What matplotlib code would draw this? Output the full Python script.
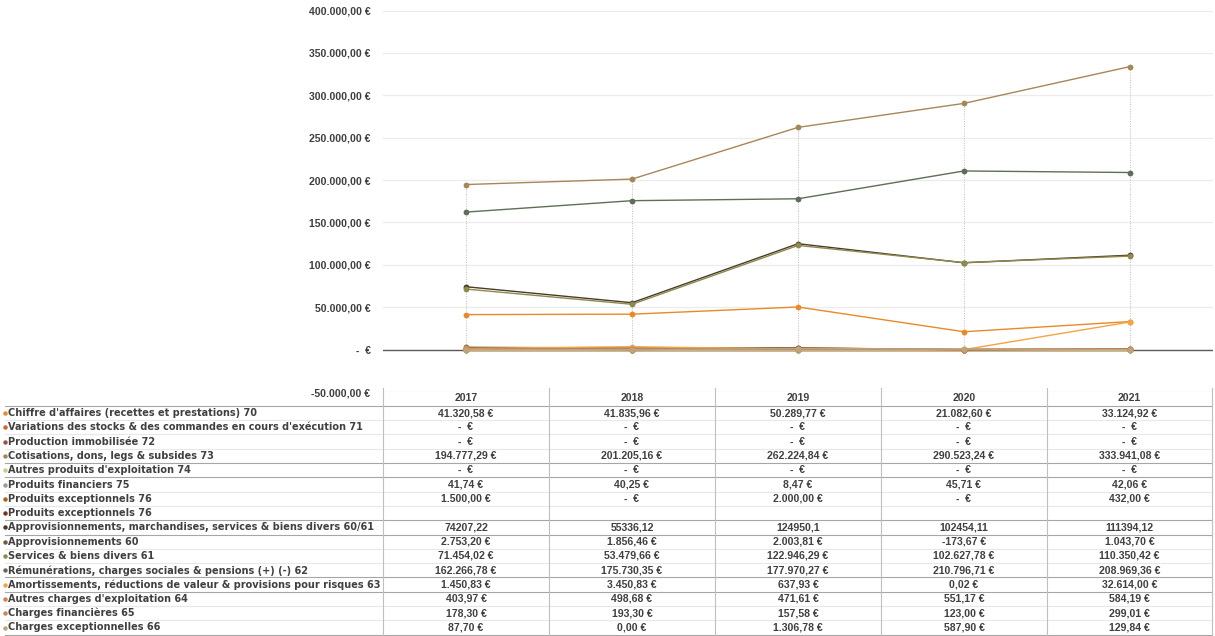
import matplotlib
matplotlib.use("Agg")
import matplotlib.pyplot as plt
import numpy as np

# ---------------- data ----------------
years = ["2017", "2018", "2019", "2020", "2021"]

labels = [
    "Chiffre d'affaires (recettes et prestations) 70",
    "Variations des stocks & des commandes en cours d'exécution 71",
    "Production immobilisée 72",
    "Cotisations, dons, legs & subsides 73",
    "Autres produits d'exploitation 74",
    "Produits financiers 75",
    "Produits exceptionnels 76",
    "Produits exceptionnels 76",
    "Approvisionnements, marchandises, services & biens divers 60/61",
    "Approvisionnements 60",
    "Services & biens divers 61",
    "Rémunérations, charges sociales & pensions (+) (-) 62",
    "Amortissements, réductions de valeur & provisions pour risques 63",
    "Autres charges d'exploitation 64",
    "Charges financières 65",
    "Charges exceptionnelles 66",
]

chiffre_affaires = [41320.58, 41835.96, 50289.77, 21082.60, 33124.92]
variations_stocks = [0, 0, 0, 0, 0]
production_immo = [0, 0, 0, 0, 0]
cotisations = [194777.29, 201205.16, 262224.84, 290523.24, 333941.08]
autres_produits = [0, 0, 0, 0, 0]
produits_fin = [41.74, 40.25, 8.47, 45.71, 42.06]
produits_exc = [1500.00, 0, 2000.00, 0, 432.00]
produits_exc_2 = [None, None, None, None, None]
approvisionnements_6061 = [74207.22, 55336.12, 124950.1, 102454.11, 111394.12]
approvisionnements_60 = [2753.20, 1856.46, 2003.81, -173.67, 1043.70]
services_biens = [71454.02, 53479.66, 122946.29, 102627.78, 110350.42]
remunerations = [162266.78, 175730.35, 177970.27, 210796.71, 208969.36]
amortissements = [1450.83, 3450.83, 637.93, 0.02, 32614.00]
autres_charges = [403.97, 498.68, 471.61, 551.17, 584.19]
charges_fin = [178.30, 193.30, 157.58, 123.00, 299.01]
charges_exc = [87.70, 0.00, 1306.78, 587.90, 129.84]

table_text = [
    ["41.320,58 €", "41.835,96 €", "50.289,77 €", "21.082,60 €", "33.124,92 €"],
    ["-  €", "-  €", "-  €", "-  €", "-  €"],
    ["-  €", "-  €", "-  €", "-  €", "-  €"],
    ["194.777,29 €", "201.205,16 €", "262.224,84 €", "290.523,24 €", "333.941,08 €"],
    ["-  €", "-  €", "-  €", "-  €", "-  €"],
    ["41,74 €", "40,25 €", "8,47 €", "45,71 €", "42,06 €"],
    ["1.500,00 €", "-  €", "2.000,00 €", "-  €", "432,00 €"],
    ["", "", "", "", ""],
    ["74207,22", "55336,12", "124950,1", "102454,11", "111394,12"],
    ["2.753,20 €", "1.856,46 €", "2.003,81 €", "-173,67 €", "1.043,70 €"],
    ["71.454,02 €", "53.479,66 €", "122.946,29 €", "102.627,78 €", "110.350,42 €"],
    ["162.266,78 €", "175.730,35 €", "177.970,27 €", "210.796,71 €", "208.969,36 €"],
    ["1.450,83 €", "3.450,83 €", "637,93 €", "0,02 €", "32.614,00 €"],
    ["403,97 €", "498,68 €", "471,61 €", "551,17 €", "584,19 €"],
    ["178,30 €", "193,30 €", "157,58 €", "123,00 €", "299,01 €"],
    ["87,70 €", "0,00 €", "1.306,78 €", "587,90 €", "129,84 €"],
]

series = [chiffre_affaires, variations_stocks, production_immo, cotisations,
          autres_produits, produits_fin, produits_exc, produits_exc_2,
          approvisionnements_6061, approvisionnements_60, services_biens,
          remunerations, amortissements, autres_charges, charges_fin, charges_exc]

colors = ["#E8892A", "#D4602E", "#9A5540", "#A6875A", "#CFCB8E", "#93A48E",
          "#A8651E", "#7A3522", "#4A3A2A", "#6E5C3A", "#8D8A4C", "#5F6E57",
          "#F2A547", "#DF7E55", "#C48662", "#BFA47A"]

y_ticks = [-50000, 0, 50000, 100000, 150000, 200000, 250000, 300000, 350000, 400000]
y_tick_labels = ["-50.000,00 €", "-  €", "50.000,00 €", "100.000,00 €", "150.000,00 €",
                 "200.000,00 €", "250.000,00 €", "300.000,00 €", "350.000,00 €", "400.000,00 €"]

# ---------------- figure ----------------
W, H = 1215, 636
fig = plt.figure(figsize=(W / 100, H / 100), dpi=100)
FONT = "Liberation Sans"
LFONT = "DejaVu Sans"
txt_color = "#404040"

ax_left, ax_right = 383, 1213
ax_top, ax_bot = 10.6, 392
ax = fig.add_axes([ax_left / W, 1 - ax_bot / H, (ax_right - ax_left) / W, (ax_bot - ax_top) / H])
x = np.arange(len(years))
ax.set_xlim(-0.5, len(years) - 0.5)
ax.set_ylim(-50000, 400000)
for s in ax.spines.values():
    s.set_visible(False)
ax.set_xticks([])
ax.set_yticks(y_ticks)
ax.set_yticklabels(y_tick_labels, fontsize=7.6, fontweight="bold", color=txt_color, family=FONT)
ax.tick_params(axis="y", length=0, pad=9)
for yv in y_ticks:
    if yv != 0:
        ax.axhline(yv, color="#ececec", lw=0.9, zorder=0)
ax.axhline(0, color="#595959", lw=1.0, zorder=1)

# drop lines
for i in range(len(years)):
    vals = [s[i] for s in series if s[i] is not None]
    ax.plot([x[i], x[i]], [min(0, min(vals)), max(vals)], color="#bdbdbd", lw=0.7,
            ls=(0, (1, 1.5)), zorder=1)

for s, c in zip(series, colors):
    if all(v is None for v in s):
        continue
    ax.plot(x, s, color=c, lw=1.0, marker="o", ms=4.2, markeredgewidth=0, zorder=3)

# ---------------- data table ----------------
tab = fig.add_axes([0, 0, 1, 1])
tab.set_xlim(0, W)
tab.set_ylim(H, 0)
tab.axis("off")

col_edges = [383 + 166 * k for k in range(6)]
col_edges[-1] = 1212
header_y = 398
row0 = 413
rh = 14.3
fs = 7.6

for j, yr in enumerate(years):
    tab.text((col_edges[j] + col_edges[j + 1]) / 2, header_y, yr, ha="center", va="center",
             fontsize=fs, fontweight="bold", color=txt_color, family=FONT)

for i, (lab, c) in enumerate(zip(labels, colors)):
    yc = row0 + i * rh
    tab.plot(4.5, yc, marker="o", ms=3.2, color=c, markeredgewidth=0)
    tab.text(8.5, yc, lab, ha="left", va="center", fontsize=7.0, fontweight="bold",
             color=txt_color, family=LFONT)
    for j in range(len(years)):
        tab.text((col_edges[j] + col_edges[j + 1]) / 2, yc, table_text[i][j], ha="center",
                 va="center", fontsize=fs, fontweight="bold", color=txt_color, family=FONT)

# horizontal lines
dark_after = {-1, 3, 4, 7, 8, 11, 12, 15}
for i in range(-1, len(labels)):
    yb = row0 + i * rh + rh / 2
    col = "#a6a6a6" if i in dark_after else "#e8e8e8"
    tab.plot([5, 1212], [yb, yb], color=col, lw=0.8)

# vertical lines
for xe in col_edges:
    tab.plot([xe, xe], [388, row0 + 15 * rh + rh / 2], color="#bfbfbf", lw=0.8)

fig.savefig("out.png", dpi=100)
